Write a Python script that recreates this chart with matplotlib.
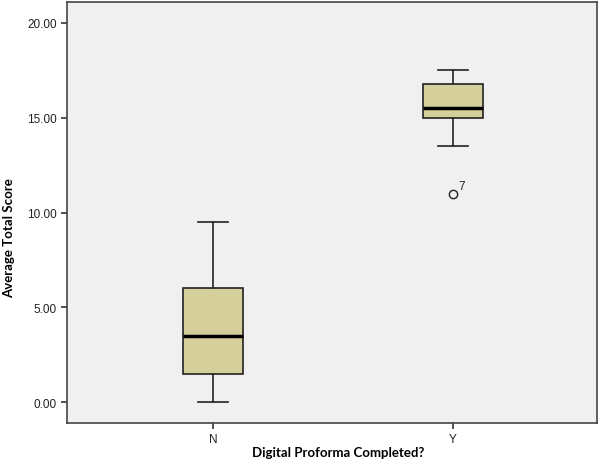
import matplotlib
matplotlib.use("Agg")
import matplotlib.pyplot as plt

plt.rcParams["font.family"] = ["Liberation Sans", "DejaVu Sans"]

categories = ["N", "Y"]
whislo = [0.0, 13.5]
q1 = [1.5, 15.0]
med = [3.5, 15.5]
q3 = [6.0, 16.75]
whishi = [9.5, 17.5]
fliers = [[], [11.0]]
flier_labels = [[], ["7"]]
yticks = [0, 5, 10, 15, 20]

fig = plt.figure(figsize=(6, 4.64), dpi=100)
ax = fig.add_axes([67/600, 40/464, 530/600, 421/464])
ax.set_facecolor("#F0F0F0")

stats = []
for i, c in enumerate(categories):
    stats.append(dict(label=c, whislo=whislo[i], q1=q1[i], med=med[i], q3=q3[i],
                      whishi=whishi[i], fliers=fliers[i]))

ax.bxp(stats, positions=[1, 2], widths=0.25, patch_artist=True,
       boxprops=dict(facecolor="#D4CF9B", edgecolor="#222222", linewidth=1.2),
       medianprops=dict(color="black", linewidth=2.5),
       whiskerprops=dict(color="#222222", linewidth=1.2),
       capprops=dict(color="#222222", linewidth=1.2),
       capwidths=0.125,
       flierprops=dict(marker="o", markerfacecolor="none", markeredgecolor="#222222",
                       markersize=6, markeredgewidth=1.0))

for i, fl in enumerate(fliers):
    for v, lab in zip(fl, flier_labels[i]):
        ax.annotate(lab, (i + 1, v), xytext=(4, 3), textcoords="offset points",
                    fontsize=8.5, color="#222222")

ax.set_xlim(0.392, 2.6)
ax.set_ylim(-1.1, 21.1)
ax.set_yticks(yticks)
ax.set_yticklabels([f"{t:.2f}" for t in yticks], fontsize=8.5)
ax.set_xticks([1, 2])
ax.set_xticklabels(categories, fontsize=8.5)
ax.tick_params(axis="both", length=4, width=1.2, color="#333333", labelcolor="#222222")
for s in ax.spines.values():
    s.set_color("#444444")
    s.set_linewidth(1.2)

fig.text(338/600, 1 - 453/464, "Digital Proforma Completed?", fontsize=9.5,
         fontweight="bold", family="Lato", ha="center", va="center")
fig.text(9/600, 1 - 238/464, "Average Total Score", fontsize=9.5,
         fontweight="bold", family="Lato", ha="center", va="center", rotation=90)

fig.savefig("out.png", dpi=100, facecolor="white")
